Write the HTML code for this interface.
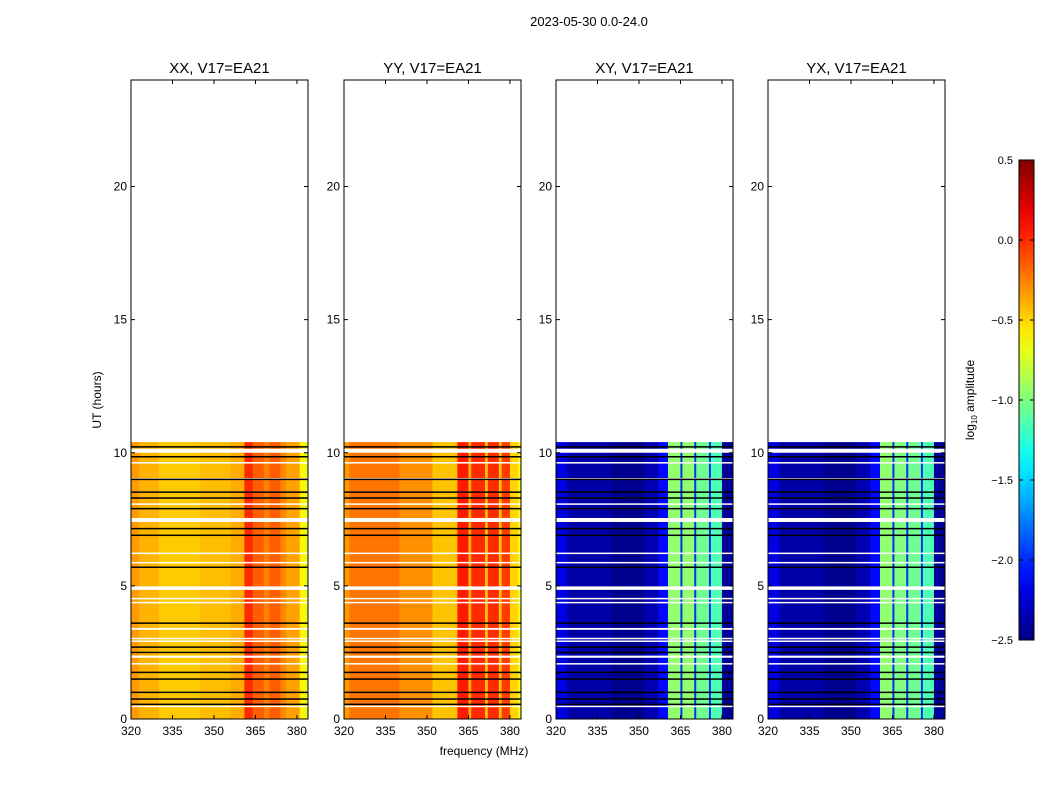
<!DOCTYPE html>
<html><head><meta charset="utf-8"><style>
body{margin:0;background:#fff;}
svg{display:block;font-family:"Liberation Sans",sans-serif;}
</style></head><body>
<svg id="fig" width="1050" height="800" viewBox="0 0 1050 800" xmlns="http://www.w3.org/2000/svg">
<text x="589" y="26" font-size="13" text-anchor="middle">2023-05-30 0.0-24.0</text>
<text x="484" y="755" font-size="12" text-anchor="middle">frequency (MHz)</text>
<text transform="translate(101,400) rotate(-90)" font-size="12" text-anchor="middle">UT (hours)</text>
<g id="panels"></g>
<g id="cbar"></g>
</svg>
<script>
// ---- data ----
const panelTitles = ["XX, V17=EA21","YY, V17=EA21","XY, V17=EA21","YX, V17=EA21"];
const xTicks = [320,335,350,365,380];
const yTicks = [0,5,10,15,20];
const cbarTicks = [0.5,0.0,-0.5,-1.0,-1.5,-2.0,-2.5];
const dataEndHour = 10.4;
// spectral segments: start frequency (MHz) and log10 amplitude per panel
const segStartXX = [320,323,330,345,356,361,364,368,370,374,376,381,383];
const segValXX   = [-0.33,-0.4,-0.47,-0.43,-0.38,0.0,-0.15,-0.25,-0.15,-0.27,-0.35,-0.6,-0.72];
const segStartYY = [320,322,340,352,361,365,366,371,372,376,377,380,383];
const segValYY   = [-0.32,-0.22,-0.3,-0.45,0.05,-0.4,0.0,-0.45,0.0,-0.45,-0.05,-0.5,-0.65];
const segStartXY = [320,324,340,352,357,360.5,365,365.7,370,370.7,375.3,376,380];
const segValXY   = [-2.2,-2.38,-2.45,-2.35,-2.1,-0.95,-2.0,-0.95,-2.0,-1.05,-2.0,-1.15,-2.42];
const segStartYX = [320,324,340,352,357,360.5,365,365.7,370,370.7,375.3,376,380];
const segValYX   = [-2.2,-2.38,-2.45,-2.35,-2.1,-0.95,-2.0,-1.0,-2.0,-1.05,-2.0,-1.15,-2.42];
// flagged rows (hours)
const whiteGapStart = [10.0,9.6,9.0,8.05,7.4,6.2,5.85,4.85,4.5,4.35,3.35,3.0,2.9,2.3,2.05,0.45];
const whiteGapEnd   = [10.15,9.65,9.05,8.1,7.55,6.25,5.9,4.98,4.55,4.4,3.42,3.05,2.95,2.38,2.1,0.5];
const blackLineHour = [10.22,9.85,9.0,8.52,8.3,7.9,7.15,6.9,5.7,3.6,2.7,2.5,1.75,1.5,1.0,0.75,0.55];

const panelLeft = [131,344,556,768];
const panelW = 177, plotTop = 80, plotBottom = 719;
const fMin = 320, fMax = 384, hMax = 24;
const segStarts = [segStartXX,segStartYY,segStartXY,segStartYX];
const segVals = [segValXX,segValYY,segValXY,segValYX];

const NS = "http://www.w3.org/2000/svg";
function mk(tag, attrs, parent){const e=document.createElementNS(NS,tag);for(const k in attrs)e.setAttribute(k,attrs[k]);parent.appendChild(e);return e;}
function yOf(h){return plotBottom-(h/hMax)*(plotBottom-plotTop);}
function jet(v){let t=(v+2.5)/3;t=Math.max(0,Math.min(1,t));
  const c=x=>Math.round(255*Math.max(0,Math.min(1,x)));
  return `rgb(${c(1.5-Math.abs(4*t-3))},${c(1.5-Math.abs(4*t-2))},${c(1.5-Math.abs(4*t-1))})`;}

const panels=document.getElementById('panels');
for(let p=0;p<4;p++){
  const L=panelLeft[p];
  const xOf=f=>L+(f-fMin)/(fMax-fMin)*panelW;
  const g=mk('g',{},panels);
  
  
  const st=segStarts[p], sv=segVals[p];
  for(let i=0;i<st.length;i++){
    const f0=st[i], f1=i+1<st.length?st[i+1]:fMax;
    const r=mk('rect',{x:xOf(f0),y:yOf(dataEndHour),width:xOf(f1)-xOf(f0)+0.5,height:yOf(0)-yOf(dataEndHour),fill:jet(sv[i])},g);
    
    
  }
  for(let i=0;i<whiteGapStart.length;i++){
    const r=mk('rect',{x:L,y:yOf(whiteGapEnd[i]),width:panelW,height:Math.max(1.5,yOf(whiteGapStart[i])-yOf(whiteGapEnd[i])),fill:'#fff'},g);
    
    
  }
  for(let i=0;i<blackLineHour.length;i++){
    const r=mk('rect',{x:L,y:yOf(blackLineHour[i])-0.75,width:panelW,height:1.5,fill:'#000'},g);
    
    
  }
  mk('rect',{x:L,y:plotTop,width:panelW,height:plotBottom-plotTop,fill:'none',stroke:'#000','stroke-width':1},g);
  const t=mk('text',{x:L+panelW/2,y:73,'font-size':15,'text-anchor':'middle'},g);t.textContent=panelTitles[p];
  
  
  xTicks.forEach(f=>{const x=xOf(f);
    mk('line',{x1:x,x2:x,y1:plotBottom,y2:plotBottom-4,stroke:'#000'},g);
    mk('line',{x1:x,x2:x,y1:plotTop,y2:plotTop+4,stroke:'#000'},g);
    const tx=mk('text',{x:x,y:plotBottom+16,'font-size':12,'text-anchor':'middle'},g);tx.textContent=f;
    
    });
  yTicks.forEach(h=>{const y=yOf(h);
    mk('line',{x1:L,x2:L+4,y1:y,y2:y,stroke:'#000'},g);
    mk('line',{x1:L+panelW,x2:L+panelW-4,y1:y,y2:y,stroke:'#000'},g);
    const ty=mk('text',{x:L-4,y:y+4,'font-size':12,'text-anchor':'end'},g);ty.textContent=h;
    
    });
}
// colorbar
const cb=document.getElementById('cbar');
const cbX=1019,cbW=15,cbTop=160,cbBot=640,vMax=0.5,vMin=-2.5;
const defs=mk('defs',{},cb);
const lg=mk('linearGradient',{id:'jetg',x1:0,y1:1,x2:0,y2:0},defs);
for(let i=0;i<=20;i++){const t=i/20;mk('stop',{offset:t,'stop-color':jet(vMin+t*(vMax-vMin))},lg);}
const cr=mk('rect',{x:cbX,y:cbTop,width:cbW,height:cbBot-cbTop,fill:'url(#jetg)',stroke:'#000'},cb);


cbarTicks.forEach(v=>{const y=cbBot-(v-vMin)/(vMax-vMin)*(cbBot-cbTop);
  mk('line',{x1:cbX,x2:cbX+4,y1:y,y2:y,stroke:'#000'},cb);
  mk('line',{x1:cbX+cbW,x2:cbX+cbW-4,y1:y,y2:y,stroke:'#000'},cb);
  const t=mk('text',{x:cbX-6,y:y+4,'font-size':11,'text-anchor':'end'},cb);
  t.textContent=(v<0?'\u2212':'')+Math.abs(v).toFixed(1);
  
  });
const cl=mk('text',{transform:'translate(974,400) rotate(-90)','font-size':12,'text-anchor':'middle'},cb);
cl.innerHTML='log<tspan font-size="8" dy="3">10</tspan><tspan dy="-3"> amplitude</tspan>';


</script>
</body></html>
